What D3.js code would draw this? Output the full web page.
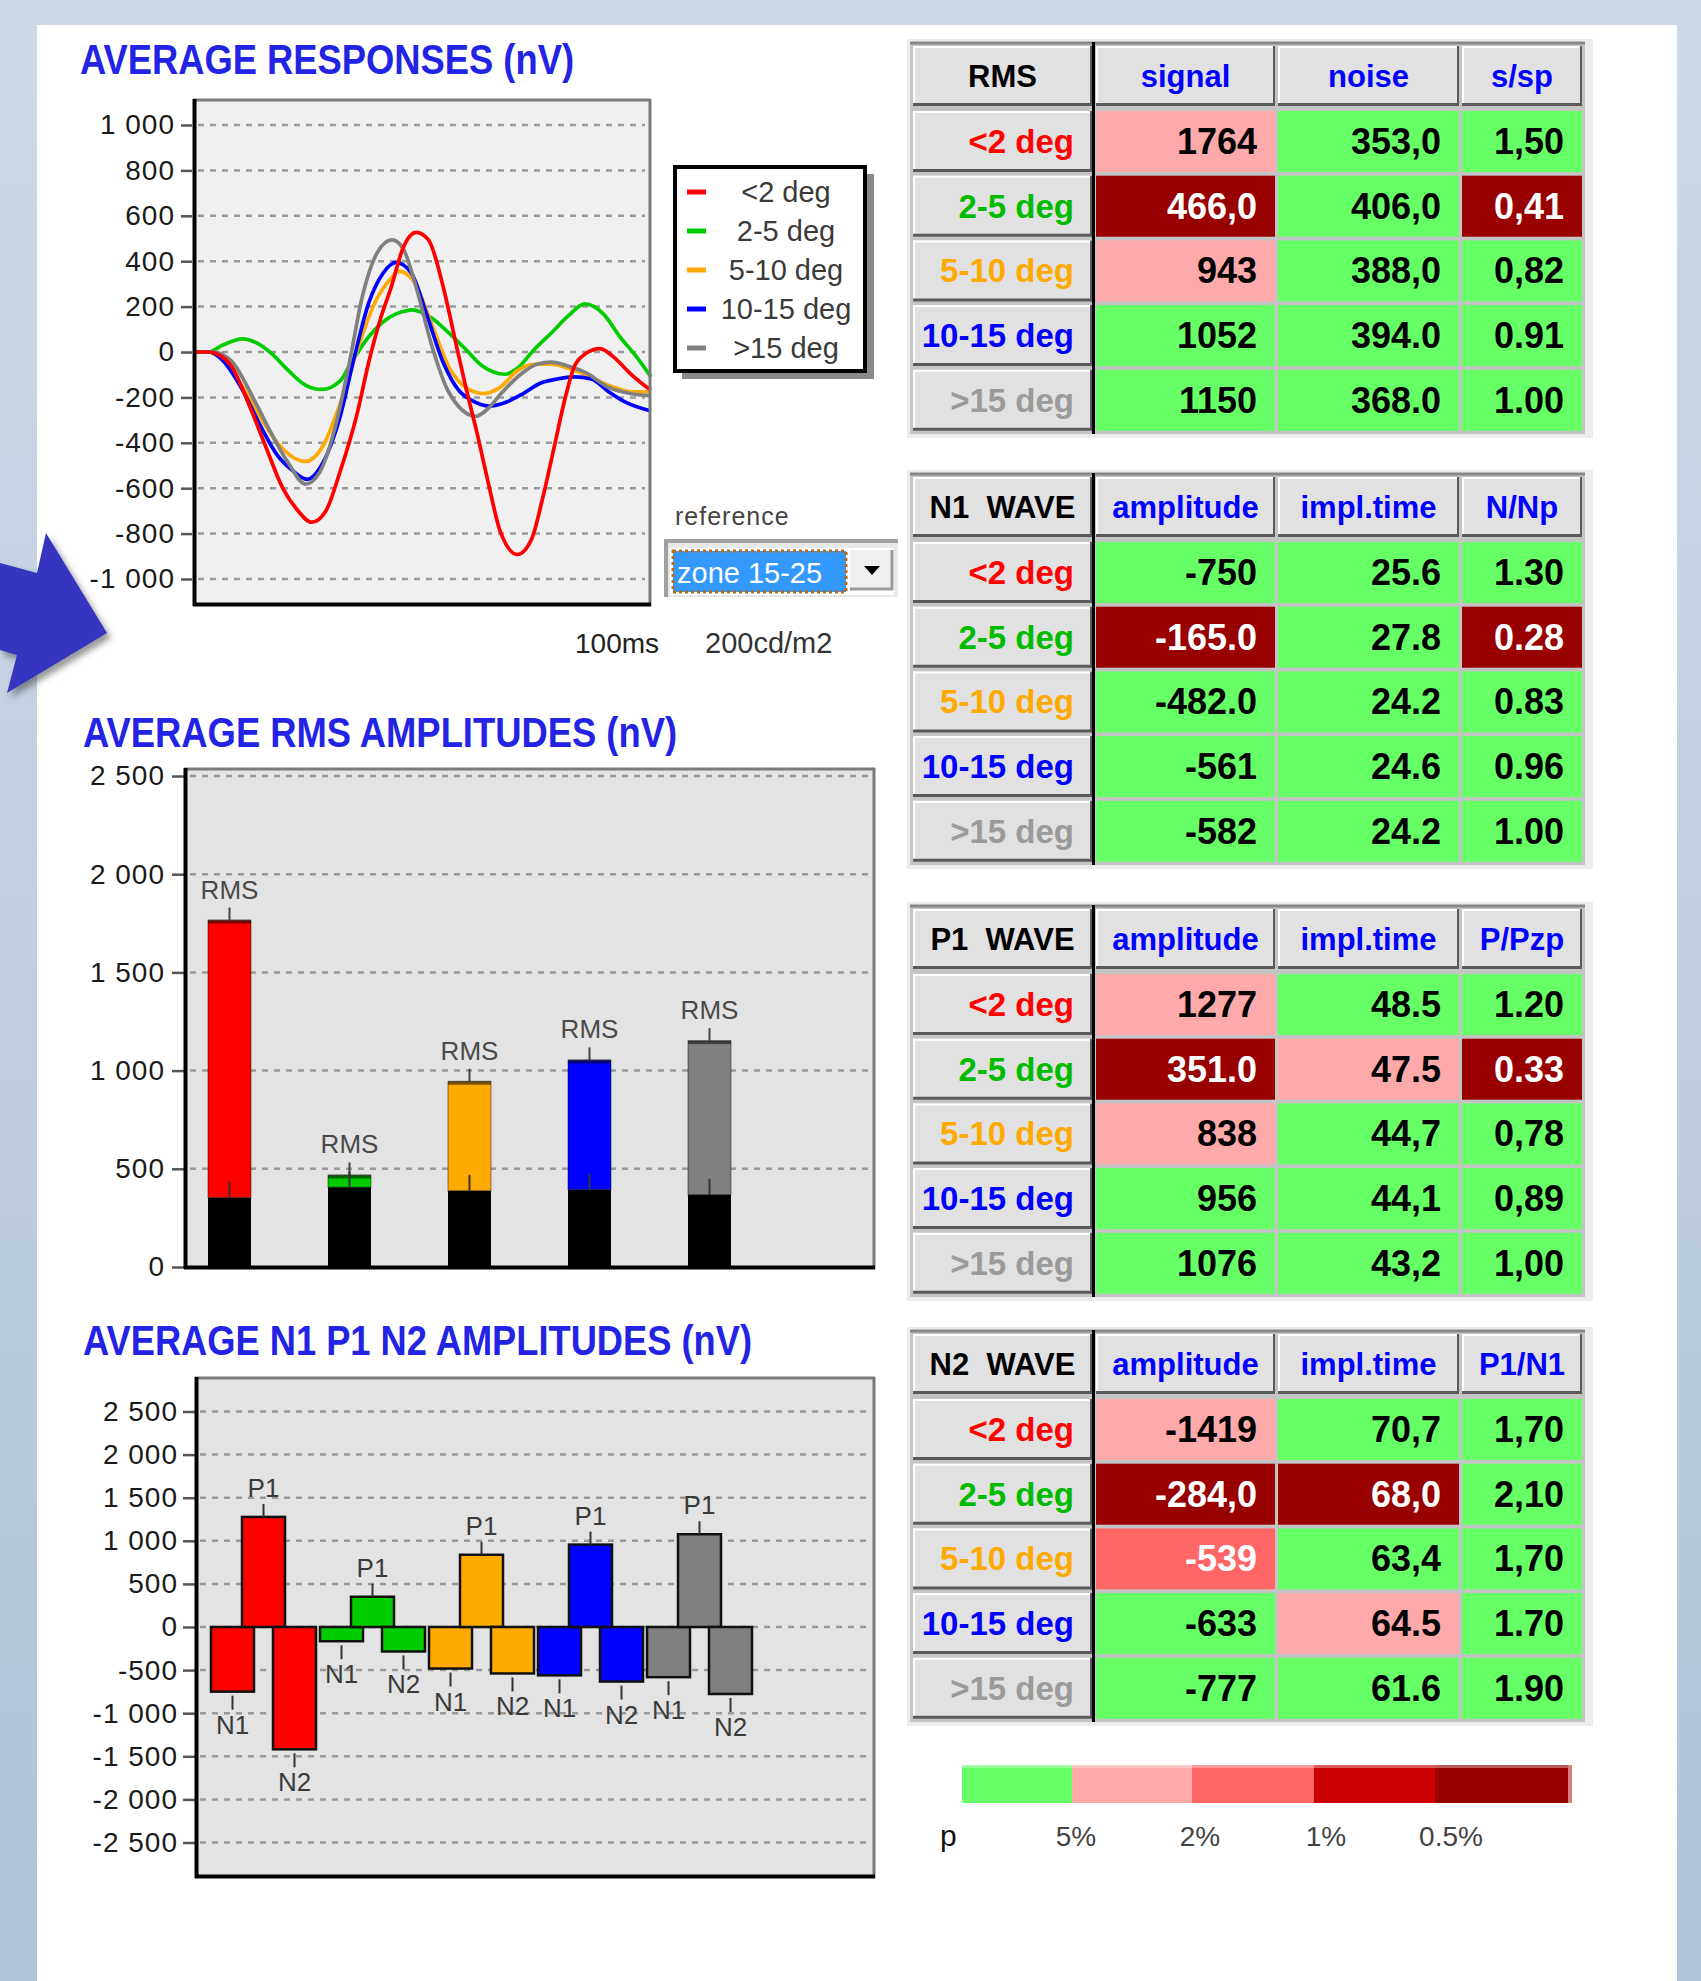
<!DOCTYPE html>
<html><head><meta charset="utf-8">
<script src="https://cdn.jsdelivr.net/npm/d3@7"></script>
<style>
html,body{margin:0;padding:0;background:#fff;}
svg{display:block;}
text{font-family:"Liberation Sans",Arial,sans-serif;}
</style></head><body>
<svg id="chart" width="1701" height="1981"></svg>
<script>
// ---------------- DATA ----------------
const categories = ["<2 deg", "2-5 deg", "5-10 deg", "10-15 deg", ">15 deg"];
const catColors = ["#ff0000", "#00cc00", "#ffaa00", "#0000ff", "#808080"];
const labelColors = ["#ff0000", "#00bb00", "#ffaa00", "#0000ff", "#9a9a9a"];

// average responses: [time ms, amplitude nV]
const respRed = [[0,0],[3,0],[5,-10],[8,-63],[11.8,-230],[15.5,-416],[19.3,-602],[22.4,-695],[25.6,-750],[28.7,-700],[31.8,-528],[35.6,-268],[38.1,-45],[40.6,141],[43.1,290],[45.6,457],[48.5,527],[51.2,494],[54.4,290],[56.9,67],[59.4,-156],[61.9,-361],[64.4,-584],[66.9,-788],[70.7,-892],[73.8,-825],[76.3,-639],[78.8,-416],[81.3,-193],[83.2,-63],[85.7,-7],[88.8,15],[92,-26],[95.7,-100],[100,-170]];
const respGreen = [[0,0],[3,0],[6,30],[10.5,58],[13.5,40],[16.8,-7],[20.5,-82],[24.3,-147],[27.8,-165],[31.8,-128],[34.3,-45],[38.1,67],[41.8,141],[45.6,178],[47.5,186],[51.9,150],[55.6,85],[59.4,11],[63.1,-63],[68,-98],[70.7,-72],[74.4,11],[78.2,85],[81.9,160],[85.5,212],[89.5,169],[93.2,67],[97,-26],[100,-110]];
const respOrange = [[0,0],[3,0],[5.5,-26],[10.5,-156],[14.3,-286],[18,-398],[24.2,-482],[28,-416],[31.8,-230],[35.6,11],[39.4,216],[43.1,327],[44.7,356],[48.1,308],[51.9,123],[55.6,-63],[59.4,-156],[63.4,-183],[66.9,-156],[70.7,-82],[74.4,-54],[78.2,-54],[81.9,-72],[85.7,-100],[90.7,-147],[95.7,-175],[100,-175]];
const respBlue = [[0,0],[3,0],[5.5,-26],[10.5,-170],[14.3,-323],[18,-453],[21.2,-519],[24.6,-561],[28,-490],[31.8,-286],[34.9,-26],[38.1,216],[41.2,346],[44.1,395],[47.5,346],[50.6,178],[54.4,-45],[58.1,-175],[60.6,-212],[64.5,-238],[68.2,-221],[71.9,-184],[75.7,-138],[79.4,-119],[83.2,-110],[86.9,-119],[90.7,-175],[94.4,-221],[100,-260]];
const respGray = [[0,0],[4,0],[8,-40],[13,-212],[16.8,-361],[20.5,-490],[24.2,-582],[27.4,-528],[30.6,-342],[33.7,-63],[36.8,253],[40,439],[43.2,494],[45.6,457],[48.7,271],[51.9,30],[55.6,-175],[61.6,-283],[63.8,-258],[67.5,-175],[71.3,-100],[75,-54],[78.2,-45],[81.9,-63],[85.7,-91],[90.7,-156],[95.7,-184],[100,-193]];
const respSeries = [respRed, respGreen, respOrange, respBlue, respGray];
const respTicks = [1000, 800, 600, 400, 200, 0, -200, -400, -600, -800, -1000];

// RMS amplitudes
const rmsSignal = [1764, 466, 943, 1052, 1150];
const rmsNoise = [353, 406, 388, 394, 368];
const rmsTicks = [0, 500, 1000, 1500, 2000, 2500];

// N1 P1 N2 amplitudes
const waveNames = ["N1", "P1", "N2"];
const n1Amp = [-750, -165, -482, -561, -582];
const p1Amp = [1277, 351, 838, 956, 1076];
const n2Amp = [-1419, -284, -539, -633, -777];
const waveTicks = [2500, 2000, 1500, 1000, 500, 0, -500, -1000, -1500, -2000, -2500];

// tables (text as displayed) and significance level (0 = n.s., 1 = 5%, 2 = 2%, 3 = 1%, 4 = 0.5%)
const rmsHeader = ["RMS", "signal", "noise", "s/sp"];
const rmsCells = [["1764","353,0","1,50"],["466,0","406,0","0,41"],["943","388,0","0,82"],["1052","394.0","0.91"],["1150","368.0","1.00"]];
const rmsLevels = [[1,0,0],[4,0,4],[1,0,0],[0,0,0],[0,0,0]];
const n1Header = ["N1  WAVE", "amplitude", "impl.time", "N/Np"];
const n1Cells = [["-750","25.6","1.30"],["-165.0","27.8","0.28"],["-482.0","24.2","0.83"],["-561","24.6","0.96"],["-582","24.2","1.00"]];
const n1Levels = [[0,0,0],[4,0,4],[0,0,0],[0,0,0],[0,0,0]];
const p1Header = ["P1  WAVE", "amplitude", "impl.time", "P/Pzp"];
const p1Cells = [["1277","48.5","1.20"],["351.0","47.5","0.33"],["838","44,7","0,78"],["956","44,1","0,89"],["1076","43,2","1,00"]];
const p1Levels = [[1,0,0],[4,1,4],[1,0,0],[0,0,0],[0,0,0]];
const n2Header = ["N2  WAVE", "amplitude", "impl.time", "P1/N1"];
const n2Cells = [["-1419","70,7","1,70"],["-284,0","68,0","2,10"],["-539","63,4","1,70"],["-633","64.5","1.70"],["-777","61.6","1.90"]];
const n2Levels = [[1,0,0],[4,4,0],[2,0,0],[0,1,0],[0,0,0]];

const pLevelColors = ["#66ff66", "#ffaaaa", "#ff6666", "#cc0000", "#990000"];
const pLevelLabels = ["5%", "2%", "1%", "0.5%"];

// ---------------- DRAWING ----------------
const svg = d3.select("#chart");
const defs = svg.append("defs");
const bgGrad = defs.append("linearGradient").attr("id","bg").attr("x1",0).attr("y1",0).attr("x2",0).attr("y2",1);
bgGrad.append("stop").attr("offset","0%").attr("stop-color","#cfd9e5");
bgGrad.append("stop").attr("offset","100%").attr("stop-color","#b0c3da");
const sh = defs.append("filter").attr("id","shadow").attr("x","-20%").attr("y","-20%").attr("width","160%").attr("height","160%");
sh.append("feDropShadow").attr("dx",4).attr("dy",5).attr("stdDeviation",3).attr("flood-color","#444").attr("flood-opacity",0.55);

svg.append("rect").attr("width",1701).attr("height",1981).attr("fill","url(#bg)");
svg.append("rect").attr("x",37).attr("y",25).attr("width",1640).attr("height",1956).attr("fill","#ffffff");

// arrow decoration
svg.append("polygon")
  .attr("points","0,563 37,573 46,533 107,633 7,693 17,655 0,650")
  .attr("fill","#3434bf").attr("filter","url(#shadow)");

const fmt = d3.formatLocale({decimal:",", thousands:" ", grouping:[3], currency:["",""], minus:"-"}).format(",d");

function title(txt, x, y, len) {
  svg.append("text").attr("x",x).attr("y",y).text(txt)
    .attr("font-size",42).attr("font-weight","bold").attr("fill","#2323e6")
    .attr("textLength",len).attr("lengthAdjust","spacingAndGlyphs");
}
function styleAxis(g) {
  g.select(".domain").remove();
  g.selectAll(".tick line").attr("stroke","#555").attr("stroke-width",2.5);
  g.selectAll(".tick text").attr("font-size",28).attr("fill","#1a1a1a")
    .attr("letter-spacing",1).style("font-family",'"Liberation Sans",Arial,sans-serif');
}
function grid(g, ticks, y, x0, x1) {
  g.selectAll(null).data(ticks).join("line")
    .attr("x1",x0).attr("x2",x1).attr("y1",d=>y(d)).attr("y2",d=>y(d))
    .attr("stroke","#9a9a9a").attr("stroke-width",2.5).attr("stroke-dasharray","6,6");
}
function frameBorders(x0,y0,x1,y1) {
  svg.append("line").attr("x1",x0).attr("x2",x1).attr("y1",y0+1).attr("y2",y0+1).attr("stroke","#7a7a7a").attr("stroke-width",3);
  svg.append("line").attr("x1",x1-1).attr("x2",x1-1).attr("y1",y0).attr("y2",y1).attr("stroke","#7a7a7a").attr("stroke-width",3);
  svg.append("line").attr("x1",x0).attr("x2",x1).attr("y1",y1-1.5).attr("y2",y1-1.5).attr("stroke","#000").attr("stroke-width",4);
  svg.append("line").attr("x1",x0+1.5).attr("x2",x0+1.5).attr("y1",y0).attr("y2",y1).attr("stroke","#000").attr("stroke-width",4);
}

// ===== Chart 1 : average responses =====
title("AVERAGE RESPONSES (nV)", 80, 74, 494);
const x1s = d3.scaleLinear().domain([0,100]).range([195,651]);
const y1s = d3.scaleLinear().domain([-1000,1000]).range([579,125]);
svg.append("rect").attr("x",193).attr("y",99).attr("width",458).attr("height",506).attr("fill","#f0f0f0");
grid(svg.append("g"), respTicks, y1s, 198, 645);
const ax1 = svg.append("g").attr("transform","translate(192,0)")
  .call(d3.axisLeft(y1s).tickValues(respTicks).tickSize(11).tickPadding(6).tickFormat(fmt));
styleAxis(ax1);
const line1 = d3.line().x(d=>x1s(d[0])).y(d=>y1s(d[1])).curve(d3.curveMonotoneX);
const drawOrder = [1,2,3,4,0];
svg.append("g").selectAll("path").data(drawOrder).join("path")
  .attr("d",i=>line1(respSeries[i])).attr("fill","none")
  .attr("stroke",i=>catColors[i]).attr("stroke-width",3.7).attr("stroke-linejoin","round");
frameBorders(193,99,651,606);

// legend
svg.append("rect").attr("x",682).attr("y",174).attr("width",192).attr("height",205).attr("fill","#8a8a8a");
svg.append("rect").attr("x",675).attr("y",167).attr("width",190).attr("height",204).attr("fill","#fff").attr("stroke","#000").attr("stroke-width",4);
const legY = d3.scalePoint().domain(categories).range([192,348]);
const leg = svg.append("g").selectAll("g").data(categories).join("g").attr("transform",d=>`translate(0,${legY(d)})`);
leg.append("line").attr("x1",687).attr("x2",706).attr("stroke",(d,i)=>catColors[i]).attr("stroke-width",5);
leg.append("text").attr("x",786).attr("dy","0.36em").attr("text-anchor","middle").attr("font-size",29)
  .attr("fill","#3a3a3a").text(d=>d);

// reference dropdown
svg.append("text").attr("x",675).attr("y",525).attr("font-size",25).attr("letter-spacing",1).attr("fill","#444").text("reference");
svg.append("rect").attr("x",664).attr("y",539).attr("width",234).attr("height",58).attr("fill","#e8e8e8");
svg.append("line").attr("x1",664).attr("x2",898).attr("y1",541).attr("y2",541).attr("stroke","#a0a0a0").attr("stroke-width",4);
svg.append("line").attr("x1",666).attr("x2",666).attr("y1",539).attr("y2",597).attr("stroke","#a0a0a0").attr("stroke-width",4);
svg.append("rect").attr("x",670).attr("y",548).attr("width",224).attr("height",47).attr("fill","#fff");
svg.append("rect").attr("x",673).attr("y",551).attr("width",173).attr("height",41).attr("fill","#3399ff")
  .attr("stroke","#b86a10").attr("stroke-width",3).attr("stroke-dasharray","3,3");
svg.append("text").attr("x",677).attr("y",583).attr("font-size",29).attr("fill","#fff").text("zone 15-25");
svg.append("rect").attr("x",850).attr("y",550).attr("width",42).attr("height",38).attr("fill","#f0f0f0");
svg.append("line").attr("x1",850).attr("x2",893).attr("y1",589).attr("y2",589).attr("stroke","#9a9a9a").attr("stroke-width",3);
svg.append("line").attr("x1",892).attr("x2",892).attr("y1",550).attr("y2",590).attr("stroke","#9a9a9a").attr("stroke-width",3);
svg.append("path").attr("d","M864,566 L880,566 L872,575 Z").attr("fill","#000");
svg.append("text").attr("x",575).attr("y",653).attr("font-size",28).attr("fill","#222").text("100ms");
svg.append("text").attr("x",705).attr("y",653).attr("font-size",29).attr("fill","#333").text("200cd/m2");

// ===== Chart 2 : RMS amplitudes =====
title("AVERAGE RMS AMPLITUDES (nV)", 83, 747, 594);
const x2s = d3.scalePoint().domain(categories).range([229.5,709.5]);
const y2s = d3.scaleLinear().domain([0,2500]).range([1267,776]);
const bw = 43;
svg.append("rect").attr("x",184).attr("y",768).attr("width",691).attr("height",500).attr("fill","#e3e3e3");
grid(svg.append("g"), rmsTicks.filter(d=>d>0), y2s, 190, 872);
const ax2 = svg.append("g").attr("transform","translate(184,0)")
  .call(d3.axisLeft(y2s).tickValues(rmsTicks).tickSize(12).tickPadding(7).tickFormat(fmt));
styleAxis(ax2);
const rms = categories.map((c,i)=>({c, i, s:rmsSignal[i], n:rmsNoise[i]}));
const rg = svg.append("g").selectAll("g").data(rms).join("g");
rg.append("rect").attr("x",d=>x2s(d.c)-bw/2).attr("width",bw)
  .attr("y",d=>y2s(d.s)).attr("height",d=>y2s(d.n)-y2s(d.s))
  .attr("fill",d=>catColors[d.i]).attr("stroke","rgba(0,0,0,0.3)").attr("stroke-width",1.5);
rg.append("rect").attr("x",d=>x2s(d.c)-bw/2).attr("width",bw)
  .attr("y",d=>y2s(d.s)-1).attr("height",4).attr("fill","rgba(0,0,0,0.5)");
rg.append("rect").attr("x",d=>x2s(d.c)-bw/2).attr("width",bw)
  .attr("y",d=>y2s(d.n)).attr("height",d=>y2s(0)-y2s(d.n)).attr("fill","#000");
rg.append("line").attr("x1",d=>x2s(d.c)).attr("x2",d=>x2s(d.c))
  .attr("y1",d=>y2s(d.s)-13).attr("y2",d=>y2s(d.s)).attr("stroke","#444").attr("stroke-width",2);
rg.append("line").attr("x1",d=>x2s(d.c)).attr("x2",d=>x2s(d.c))
  .attr("y1",d=>y2s(d.n)-16).attr("y2",d=>y2s(d.n)).attr("stroke","#333").attr("stroke-width",2);
rg.append("text").attr("x",d=>x2s(d.c)).attr("y",d=>y2s(d.s)-22).attr("text-anchor","middle")
  .attr("font-size",26).attr("fill","#4a4a4a").text("RMS");
frameBorders(184,768,875,1269);

// ===== Chart 3 : N1 P1 N2 amplitudes =====
title("AVERAGE N1 P1 N2 AMPLITUDES (nV)", 83, 1355, 669);
const x3s = d3.scalePoint().domain(categories).range([263.5,699.5]);
const off3 = d3.scalePoint().domain(waveNames).range([-31,31]);
const y3s = d3.scaleLinear().domain([-2500,2500]).range([1842.5,1411.5]);
svg.append("rect").attr("x",195).attr("y",1377).attr("width",680).attr("height",500).attr("fill","#e3e3e3");
grid(svg.append("g"), waveTicks, y3s, 200, 872);
const ax3 = svg.append("g").attr("transform","translate(195,0)")
  .call(d3.axisLeft(y3s).tickValues(waveTicks).tickSize(12).tickPadding(5).tickFormat(fmt));
styleAxis(ax3);
const waves = [];
categories.forEach((c,i)=>{
  waves.push({c,i,w:"N1",v:n1Amp[i]});
  waves.push({c,i,w:"P1",v:p1Amp[i]});
  waves.push({c,i,w:"N2",v:n2Amp[i]});
});
const wg = svg.append("g").selectAll("g").data(waves).join("g");
wg.append("rect").attr("x",d=>x3s(d.c)+off3(d.w)-bw/2).attr("width",bw)
  .attr("y",d=>y3s(Math.max(0,d.v))).attr("height",d=>Math.abs(y3s(d.v)-y3s(0)))
  .attr("fill",d=>catColors[d.i]).attr("stroke","#111").attr("stroke-width",2.5);
wg.append("line").attr("x1",d=>x3s(d.c)+off3(d.w)).attr("x2",d=>x3s(d.c)+off3(d.w))
  .attr("y1",d=>d.v>0 ? y3s(d.v)-13 : y3s(d.v)+4).attr("y2",d=>d.v>0 ? y3s(d.v) : y3s(d.v)+18)
  .attr("stroke","#333").attr("stroke-width",2);
wg.append("text").attr("x",d=>x3s(d.c)+off3(d.w)).attr("text-anchor","middle")
  .attr("y",d=>d.v>0 ? y3s(d.v)-20 : y3s(d.v)+42)
  .attr("font-size",26).attr("fill","#3a3a3a").text(d=>d.w);
frameBorders(195,1377,875,1878);

// ===== Tables =====
const colX = [[913,1092],[1096,1275],[1278,1459],[1462,1582]];
function bevel(g, x, y, w, h) {
  g.append("rect").attr("x",x).attr("y",y).attr("width",w).attr("height",h).attr("fill","#e1e1e1");
  g.append("line").attr("x1",x).attr("x2",x+w).attr("y1",y+1).attr("y2",y+1).attr("stroke","#fff").attr("stroke-width",2);
  g.append("line").attr("x1",x+1).attr("x2",x+1).attr("y1",y).attr("y2",y+h).attr("stroke","#fff").attr("stroke-width",2);
  g.append("line").attr("x1",x).attr("x2",x+w).attr("y1",y+h-1.5).attr("y2",y+h-1.5).attr("stroke","#5a5a5a").attr("stroke-width",3);
  g.append("line").attr("x1",x+w-1).attr("x2",x+w-1).attr("y1",y).attr("y2",y+h).attr("stroke","#5a5a5a").attr("stroke-width",2);
}
function drawTable(T, header, cells, levels) {
  const g = svg.append("g");
  g.append("rect").attr("x",907).attr("y",T-3).attr("width",686).attr("height",399).attr("fill","#ededed");
  g.append("rect").attr("x",910).attr("y",T).attr("width",675).attr("height",392).attr("fill","#c4c4c4");
  g.append("line").attr("x1",910).attr("x2",1585).attr("y1",T+1).attr("y2",T+1).attr("stroke","#888").attr("stroke-width",3);
  const rowY = i => T + 69 + i*64.7;
  header.forEach((h,c)=>{
    const [a,b] = colX[c];
    bevel(g, a, T+4, b-a, 60);
    g.append("text").attr("x",(a+b)/2).attr("y",T+34).attr("dy","0.36em").attr("text-anchor","middle")
      .attr("font-size",31).attr("font-weight","bold").attr("fill", c===0 ? "#000" : "#0000ff")
      .attr("xml:space","preserve").text(h);
  });
  categories.forEach((cat,r)=>{
    const y = rowY(r);
    bevel(g, colX[0][0], y, colX[0][1]-colX[0][0], 61);
    g.append("text").attr("x",colX[0][1]-18).attr("y",y+30).attr("dy","0.36em").attr("text-anchor","end")
      .attr("font-size",33).attr("font-weight","bold").attr("fill",labelColors[r]).text(cat);
    cells[r].forEach((v,c)=>{
      const [a,b] = colX[c+1];
      const lv = levels[r][c];
      g.append("rect").attr("x",a).attr("y",y).attr("width",b-a).attr("height",61).attr("fill",pLevelColors[lv]);
      g.append("text").attr("x",b-18).attr("y",y+30).attr("dy","0.36em").attr("text-anchor","end")
        .attr("font-size",36).attr("font-weight","bold").attr("fill", lv>=2 ? "#fff" : "#000").text(v);
    });
  });
  g.append("rect").attr("x",1092).attr("y",T).attr("width",3).attr("height",392).attr("fill","#000");
}
drawTable(42, rmsHeader, rmsCells, rmsLevels);
drawTable(473, n1Header, n1Cells, n1Levels);
drawTable(905, p1Header, p1Cells, p1Levels);
drawTable(1330, n2Header, n2Cells, n2Levels);

// ===== p-value colour key =====
const keyBounds = [962,1072,1192,1314,1435,1568];
const kg = svg.append("g");
kg.selectAll("rect").data(pLevelColors).join("rect")
  .attr("x",(d,i)=>keyBounds[i]).attr("width",(d,i)=>keyBounds[i+1]-keyBounds[i])
  .attr("y",1765).attr("height",38).attr("fill",d=>d);
kg.append("rect").attr("x",962).attr("y",1765).attr("width",606).attr("height",3).attr("fill","rgba(255,255,255,0.35)");
kg.append("rect").attr("x",1568).attr("y",1765).attr("width",4).attr("height",38).attr("fill","#d88080");
kg.append("text").attr("x",940).attr("y",1846).attr("font-size",30).attr("fill","#111").text("p");
kg.selectAll(".klab").data(pLevelLabels).join("text").attr("class","klab")
  .attr("x",(d,i)=>keyBounds[i+1]+4+4*i).attr("y",1846).attr("text-anchor","middle")
  .attr("font-size",28).attr("fill","#444").text(d=>d);
</script>
</body></html>
